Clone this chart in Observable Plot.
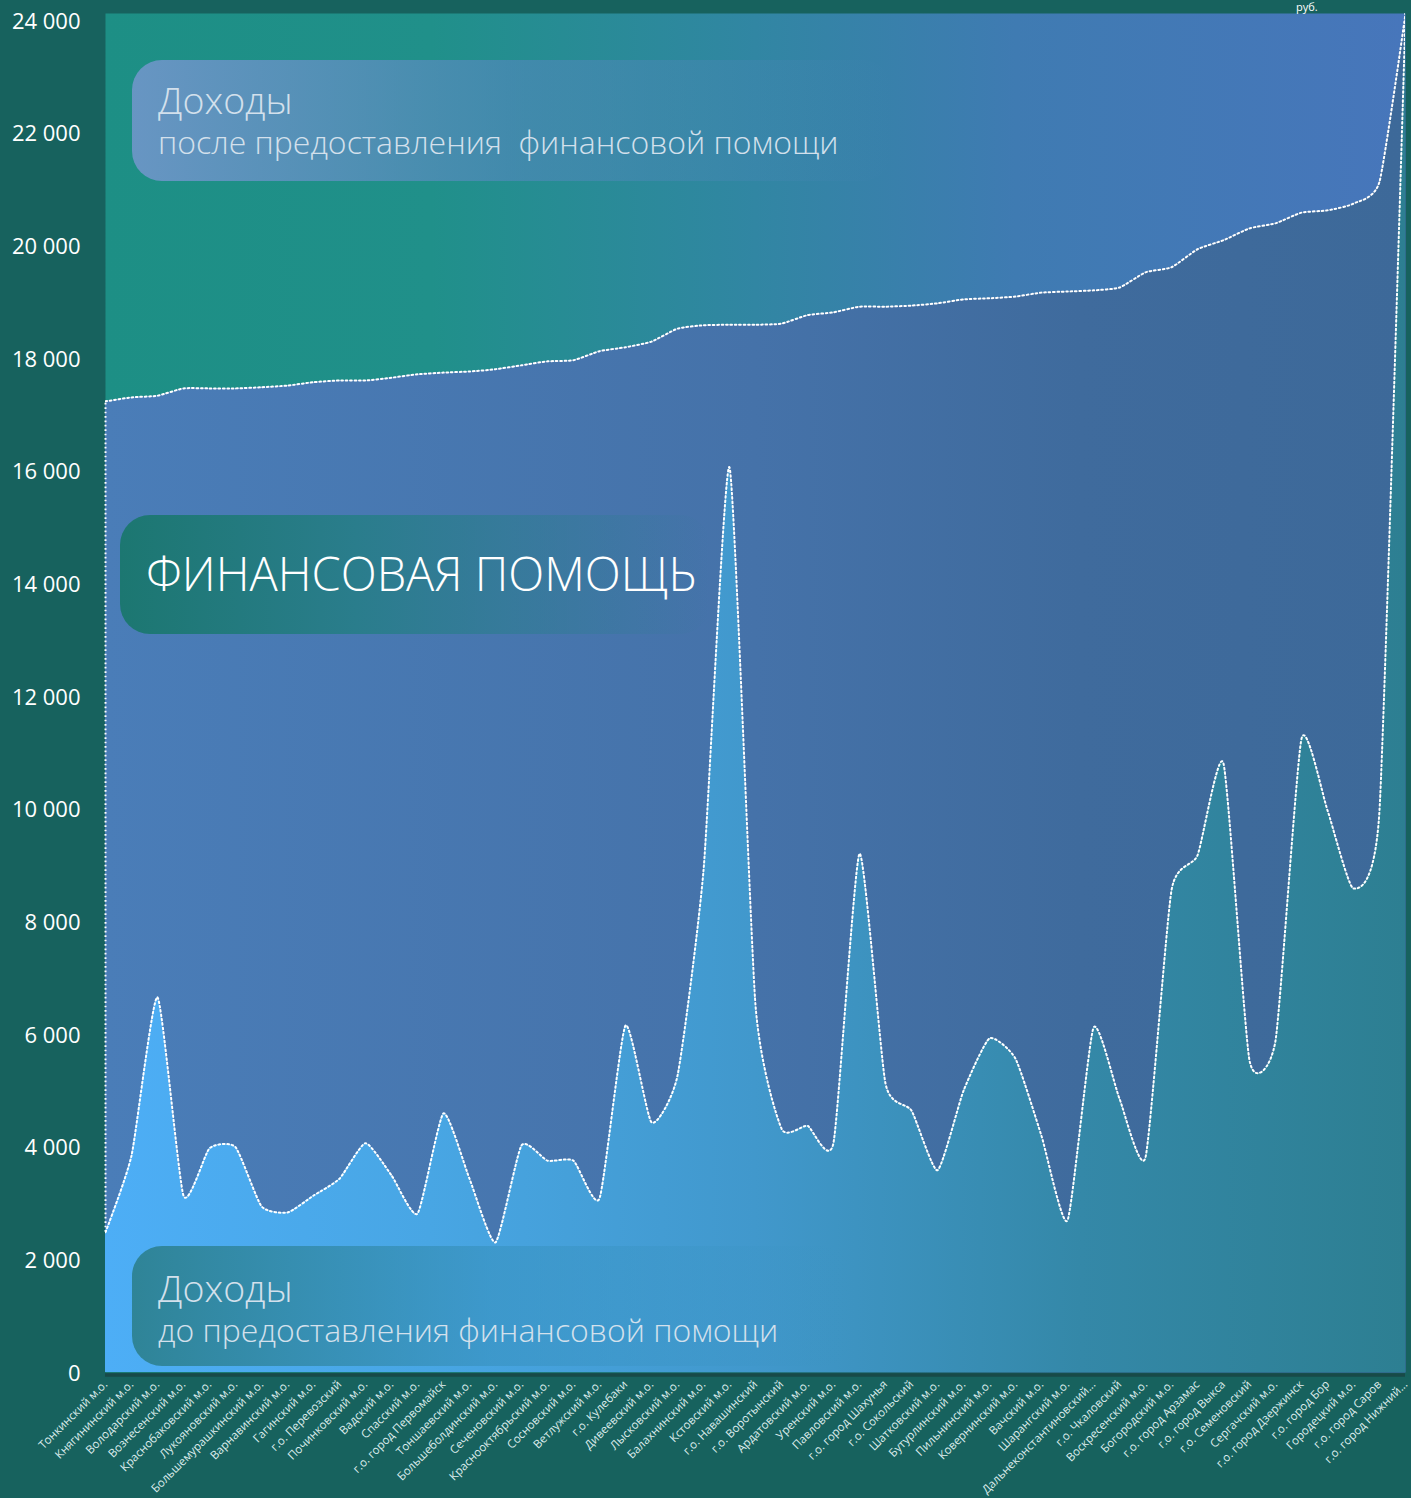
<!DOCTYPE html>
<html lang="ru">
<head>
<meta charset="utf-8">
<script src="https://cdn.jsdelivr.net/npm/d3@7"></script>
<script src="https://cdn.jsdelivr.net/npm/@observablehq/plot@0.6"></script>
<style>
  html, body { margin: 0; padding: 0; background: #17625e; }
  #wrap { position: relative; width: 1411px; height: 1498px; overflow: hidden; font-family: "Open Sans", "Noto Sans", sans-serif; }
  #wrap svg { position: absolute; left: 0; top: 0; }
  .box { position: absolute; border-radius: 30px; box-sizing: border-box; }
  .t1 { position: absolute; font-weight: 300; color: #d3e0ec; white-space: pre; }
  .unit { position: absolute; color: #ffffff; font-size: 11px; white-space: nowrap; }
</style>
</head>
<body>
<div id="wrap"></div>
<script>
const categories = [
  "Тонкинский м.о.", "Княгининский м.о.", "Володарский м.о.", "Вознесенский м.о.",
  "Краснобаковский м.о.", "Лукояновский м.о.", "Большемурашкинский м.о.", "Варнавинский м.о.",
  "Гагинский м.о.", "г.о. Перевозский", "Починковский м.о.", "Вадский м.о.",
  "Спасский м.о.", "г.о. город Первомайск", "Тоншаевский м.о.", "Большеболдинский м.о.",
  "Сеченовский м.о.", "Краснооктябрьский м.о.", "Сосновский м.о.", "Ветлужский м.о.",
  "г.о. Кулебаки", "Дивеевский м.о.", "Лысковский м.о.", "Балахнинский м.о.",
  "Кстовский м.о.", "г.о. Навашинский", "г.о. Воротынский", "Ардатовский м.о.",
  "Уренский м.о.", "Павловский м.о.", "г.о. город Шахунья", "г.о. Сокольский",
  "Шатковский м.о.", "Бутурлинский м.о.", "Пильнинский м.о.", "Ковернинский м.о.",
  "Вачский м.о.", "Шарангский м.о.", "Дальнеконстантиновский...", "г.о. Чкаловский",
  "Воскресенский м.о.", "Богородский м.о.", "г.о. город Арзамас", "г.о. город Выкса",
  "г.о. Семеновский", "Сергачский м.о.", "г.о. город Дзержинск", "г.о. город Бор",
  "Городецкий м.о.", "г.о. город Саров", "г.о. город Нижний..."
];

// Доходы до предоставления финансовой помощи
const incomeBefore = [
  2490, 3850, 6660, 3140, 3980, 4000, 2950, 2840, 3140, 3440,
  4070, 3500, 2820, 4600, 3440, 2310, 4030, 3760, 3760, 3090,
  6160, 4440, 5270, 8910, 16070, 6520, 4330, 4380, 4080, 9210,
  5130, 4650, 3590, 5000, 5930, 5570, 4200, 2700, 6120, 4860,
  3820, 8560, 9180, 10810, 5540, 5890, 11250, 9980, 8590, 9980,
  24120
];

// Доходы после предоставления финансовой помощи
const incomeAfter = [
  17240, 17310, 17340, 17470, 17470, 17470, 17490, 17520, 17580, 17610,
  17610, 17660, 17720, 17750, 17770, 17810, 17880, 17950, 17970, 18130,
  18200, 18300, 18530, 18590, 18600, 18600, 18620, 18770, 18820, 18920,
  18920, 18940, 18980, 19050, 19070, 19100, 19170, 19190, 19210, 19260,
  19530, 19620, 19940, 20100, 20310, 20400, 20590, 20630, 20750, 21140,
  24120
];

const yTicks = [0, 2000, 4000, 6000, 8000, 10000, 12000, 14000, 16000, 18000, 20000, 22000, 24000];

const data = categories.map((c, i) => ({c, before: incomeBefore[i], after: incomeAfter[i]}));

const fmt = d => d3.format(",")(d).replace(/,/g, " ");

function gradients() {
  const defs = d3.create("svg:defs");
  const mk = (id, stops) => {
    const g = defs.append("linearGradient")
      .attr("id", id)
      .attr("gradientUnits", "userSpaceOnUse")
      .attr("x1", 105).attr("x2", 1405).attr("y1", 0).attr("y2", 0);
    for (const [o, c] of stops) g.append("stop").attr("offset", o).attr("stop-color", c);
  };
  mk("gBg", [[0, "#1d8f85"], [0.25, "#20908a"], [0.5, "#3186a3"], [0.7, "#3f7bb2"], [1, "#4776bb"]]);
  mk("gUp", [[0, "#4a7db8"], [0.5, "#4572a9"], [0.75, "#3f6b9d"], [1, "#3d6999"]]);
  mk("gLow", [[0, "#4daef6"], [0.25, "#48a6e4"], [0.5, "#4198cc"], [0.75, "#3488a8"], [1, "#2d7f92"]]);
  return defs.node();
}

const curveOpts = {curve: "cardinal", tension: 0.45};
const dash = {stroke: "#ffffff", strokeWidth: 2, strokeDasharray: "1.7 2.7"};
const dotted = {...dash, ...curveOpts, clip: true};

const chart = Plot.plot({
  width: 1411,
  height: 1498,
  marginLeft: 105,
  marginRight: 6,
  marginTop: 13,
  marginBottom: 126,
  style: {background: "transparent", color: "#ffffff", fontFamily: "'Open Sans', 'Noto Sans', sans-serif", overflow: "visible"},
  x: {type: "point", domain: categories, padding: 0, label: null},
  y: {domain: [0, 24125], label: null},
  marks: [
    gradients,
    Plot.frame({fill: "url(#gBg)", stroke: null}),
    Plot.areaY(data, {x: "c", y: "after", fill: "url(#gUp)", ...curveOpts, clip: true}),
    Plot.areaY(data, {x: "c", y: "before", fill: "url(#gLow)", ...curveOpts, clip: true}),
    Plot.ruleX([categories[0]], {y1: incomeBefore[0], y2: incomeAfter[0], ...dash}),
    Plot.lineY(data, {x: "c", y: "after", ...dotted}),
    Plot.lineY(data, {x: "c", y: "before", ...dotted}),
    Plot.ruleY([0], {stroke: "#184a48", strokeWidth: 3.5, dy: 2.5}),
    Plot.axisY({ticks: yTicks, tickFormat: fmt, tickSize: 0, tickPadding: 25, fontSize: 22, fill: "#ffffff", dy: 1}),
    Plot.axisX({tickSize: 0, tickRotate: -45, tickPadding: 10, fontSize: 11.5, fill: "#dcecec"})
  ]
});

const wrap = document.getElementById("wrap");
wrap.appendChild(chart);

function addBox(left, top, width, height, bg) {
  const b = document.createElement("div");
  b.className = "box";
  Object.assign(b.style, {left: left + "px", top: top + "px", width: width + "px", height: height + "px", background: bg});
  wrap.appendChild(b);
  return b;
}
function addText(parent, text, left, top, size, color, weight) {
  const t = document.createElement("div");
  t.className = "t1";
  t.textContent = text;
  Object.assign(t.style, {left: left + "px", top: top + "px", fontSize: size + "px"});
  if (color) t.style.color = color;
  if (weight) t.style.fontWeight = weight;
  parent.appendChild(t);
  return t;
}

// Box 1: after
const b1 = addBox(132, 60, 760, 121, "linear-gradient(90deg, rgba(110,150,200,0.92) 0%, rgba(90,135,195,0.55) 50%, rgba(80,125,190,0) 100%)");
addText(b1, "Доходы", 26, 14, 37.5);
addText(b1, "после предоставления  финансовой помощи", 26, 60, 32);

// Box 2: financial assistance
const b2 = addBox(120, 515, 590, 119, "linear-gradient(90deg, #1c7771 0%, #2a7d8c 40%, rgba(70,120,180,0) 100%)");
addText(b2, "ФИНАНСОВАЯ ПОМОЩЬ", 26, 26, 47, "#ffffff", 300);

// Box 3: before
const b3 = addBox(132, 1246, 720, 120, "linear-gradient(90deg, #2f8497 0%, rgba(55,145,190,0.6) 50%, rgba(70,160,210,0) 100%)");
addText(b3, "Доходы", 26, 16, 37.5);
addText(b3, "до предоставления финансовой помощи", 26, 62, 32);

// unit label at the top edge
const u = document.createElement("div");
u.className = "unit";
u.textContent = "руб.";
Object.assign(u.style, {left: "1296px", top: "-1px"});
wrap.appendChild(u);
</script>
</body>
</html>
